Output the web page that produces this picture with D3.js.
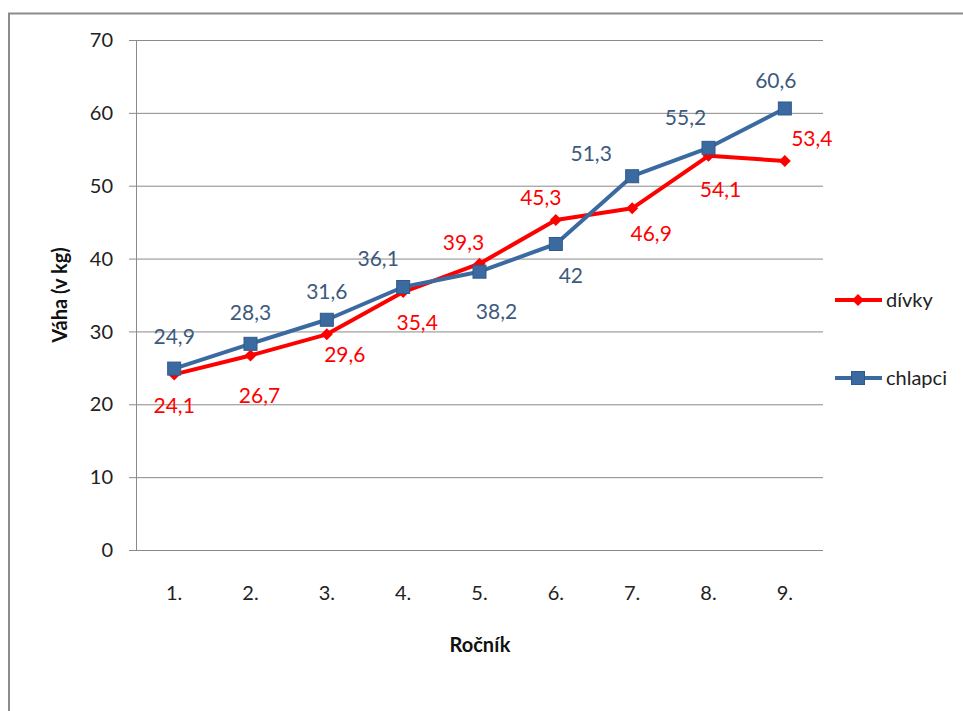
<!DOCTYPE html>
<html><head><meta charset="utf-8">
<script src="https://cdn.jsdelivr.net/npm/d3@7/dist/d3.min.js"></script>
<style>body{margin:0;background:#fff}svg{display:block}text{font-family:Lato,"Open Sans",sans-serif}</style>
</head><body>
<svg id="c" width="963" height="711"></svg>
<script>
const categories = ["1.","2.","3.","4.","5.","6.","7.","8.","9."];
const divky   = [24.1, 26.7, 29.6, 35.4, 39.3, 45.3, 46.9, 54.1, 53.4];
const chlapci = [24.9, 28.3, 31.6, 36.1, 38.2, 42, 51.3, 55.2, 60.6];
const yTicks  = [0,10,20,30,40,50,60,70];
const seriesNames = ["dívky","chlapci"];
// label offsets relative to point (label placement)
const divkyLabelOff   = [[0,31],[9,40],[18,20],[14,30],[-16,-21],[-15,-23],[19,25],[12,34],[27,-23]];
const chlapciLabelOff = [[0,-32],[0,-31],[0,-28],[-25,-29],[17,40],[15,31],[-41,-23],[-23,-30],[-9,-28]];

const svg = d3.select("#c");
// outer frame
svg.append("rect").attr("x",9).attr("y",13.5).attr("width",1000).attr("height",800)
  .attr("fill","none").attr("stroke","#8c8c8c").attr("stroke-width",2);

const L=136, R=823, T=40, B=550;
const x = d3.scalePoint().domain(categories).range([L,R]).padding(0.5);
const y = d3.scaleLinear().domain([0,70]).range([B,T]);

// gridlines
svg.append("g").selectAll("line").data(yTicks).join("line")
  .attr("x1",L-7).attr("x2",R).attr("y1",d=>y(d)+0.5).attr("y2",d=>y(d)+0.5)
  .attr("stroke","#8a8a8a").attr("stroke-width",1);
// y axis line
svg.append("line").attr("x1",L+0.5).attr("x2",L+0.5).attr("y1",T).attr("y2",B)
  .attr("stroke","#8a8a8a");
// y tick labels
svg.append("g").selectAll("text").data(yTicks).join("text")
  .attr("x",113).attr("y",d=>y(d)).attr("dy","0.36em").attr("text-anchor","end")
  .attr("font-size",20).attr("fill","#222").text(d=>d);
// x labels
svg.append("g").selectAll("text").data(categories).join("text")
  .attr("x",d=>x(d)).attr("y",600).attr("text-anchor","middle")
  .attr("font-size",20).attr("fill","#222").text(d=>d);
// axis titles
svg.append("text").attr("x",480).attr("y",652).attr("text-anchor","middle")
  .attr("font-size",20).attr("font-weight","bold").attr("fill","#111").text("Ročník");
svg.append("text").attr("transform","translate(67,295) rotate(-90)").attr("text-anchor","middle")
  .attr("font-size",20).attr("font-weight","bold").attr("fill","#111").text("Váha (v kg)");

const red="#ff0000", blue="#3a6a9f", blueLbl="#3d5a7e";
const line = d3.line().x((d,i)=>x(categories[i])).y(d=>y(d));

function diamond(g,cx,cy,s){g.append("path").attr("d",`M${cx},${cy-s}L${cx+s},${cy}L${cx},${cy+s}L${cx-s},${cy}Z`).attr("fill",red);}
function square(g,cx,cy,s){g.append("rect").attr("x",cx-s).attr("y",cy-s).attr("width",2*s).attr("height",2*s).attr("fill",blue).attr("stroke","#2f5a8a").attr("stroke-width",1);}

const gR=svg.append("g"), gB=svg.append("g");
gR.append("path").attr("d",line(divky)).attr("fill","none").attr("stroke",red).attr("stroke-width",4).attr("stroke-linejoin","round");
divky.forEach((v,i)=>diamond(gR,x(categories[i]),y(v),6));
gB.append("path").attr("d",line(chlapci)).attr("fill","none").attr("stroke",blue).attr("stroke-width",4).attr("stroke-linejoin","round");
chlapci.forEach((v,i)=>square(gB,x(categories[i]),y(v),6.5));

const fmt = v=>String(v).replace(".",",");
svg.append("g").selectAll("text").data(divky).join("text")
  .attr("x",(d,i)=>x(categories[i])+divkyLabelOff[i][0]).attr("y",(d,i)=>y(d)+divkyLabelOff[i][1])
  .attr("dy","0.36em").attr("text-anchor","middle").attr("font-size",21).attr("fill",red).text(fmt);
svg.append("g").selectAll("text").data(chlapci).join("text")
  .attr("x",(d,i)=>x(categories[i])+chlapciLabelOff[i][0]).attr("y",(d,i)=>y(d)+chlapciLabelOff[i][1])
  .attr("dy","0.36em").attr("text-anchor","middle").attr("font-size",21).attr("fill",blueLbl).text(fmt);

// legend
const lg=svg.append("g");
[[300,red,"dívky",0],[378,blue,"chlapci",1]].forEach(([ly,c,t,k])=>{
  lg.append("line").attr("x1",835).attr("x2",882).attr("y1",ly).attr("y2",ly).attr("stroke",c).attr("stroke-width",4);
  if(k===0) diamond(lg,858,ly,6); else square(lg,858,ly,6.5);
  lg.append("text").attr("x",886).attr("y",ly).attr("dy","0.36em").attr("font-size",20).attr("fill","#222").text(t);
});
</script>
</body></html>
